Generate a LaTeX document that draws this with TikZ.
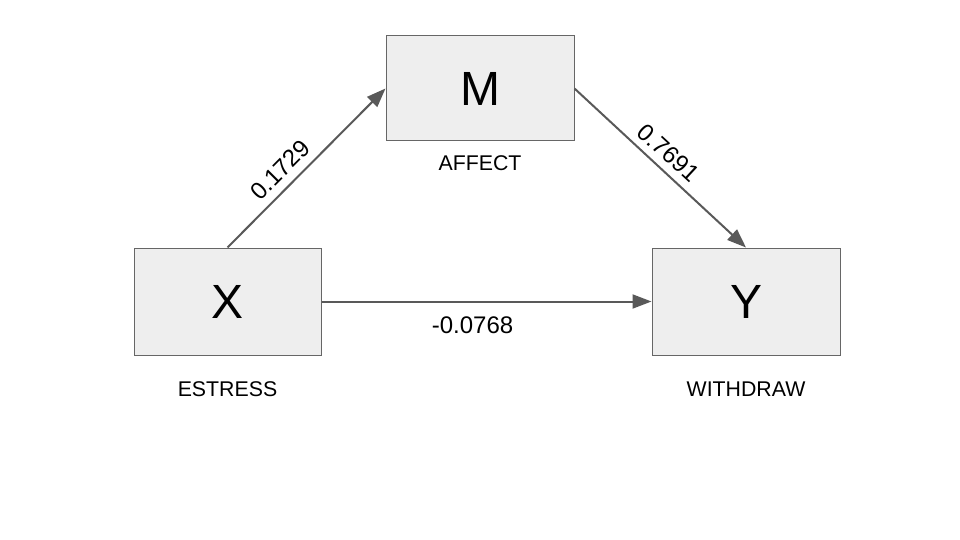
\documentclass[tikz,border=0pt]{standalone}
\usepackage{fontspec}
\setmainfont{Liberation Sans}
\usetikzlibrary{arrows.meta}
\definecolor{boxfill}{HTML}{EEEEEE}
\definecolor{boxline}{HTML}{666666}
\definecolor{arrowc}{HTML}{595959}
\begin{document}
\begin{tikzpicture}[x=1pt,y=-1pt,
  varbox/.style={draw=boxline, line width=1pt, fill=boxfill, inner sep=0pt,
    font=\fontsize{48}{56}\selectfont},
  conn/.style={draw=arrowc, line width=2pt, -{Triangle[length=19pt,width=14pt]}},
  caption/.style={inner sep=0pt, font=\fontsize{21.3}{25}\selectfont},
  coef/.style={inner sep=0pt, font=\fontsize{24}{28}\selectfont}]
\useasboundingbox (0,0) rectangle (960,540);
\node[varbox, minimum width=188pt, minimum height=105pt] (M) at (480,88.5) {M};
\node[varbox, minimum width=187pt, minimum height=107pt] (X) at (227.5,301.5) {X};
\node[varbox, minimum width=188pt, minimum height=107pt] (Y) at (746,301.5) {Y};
\node[caption] (affect) at (480,163.5) {AFFECT};
\node[caption] (estress) at (227.5,389) {ESTRESS};
\node[caption] (withdraw) at (746,389) {WITHDRAW};
\draw[conn] (X.north) -- (M.west);
\draw[conn] (M.east) -- (Y.north);
\draw[conn] (X.east) -- (Y.west);
\node[coef, rotate=45.2] (a) at (280,170) {0.1729};
\node[coef, rotate=-42.8] (b) at (668.5,153) {0.7691};
\node[coef] (c) at (472.5,325.5) {-0.0768};
\end{tikzpicture}
\end{document}
